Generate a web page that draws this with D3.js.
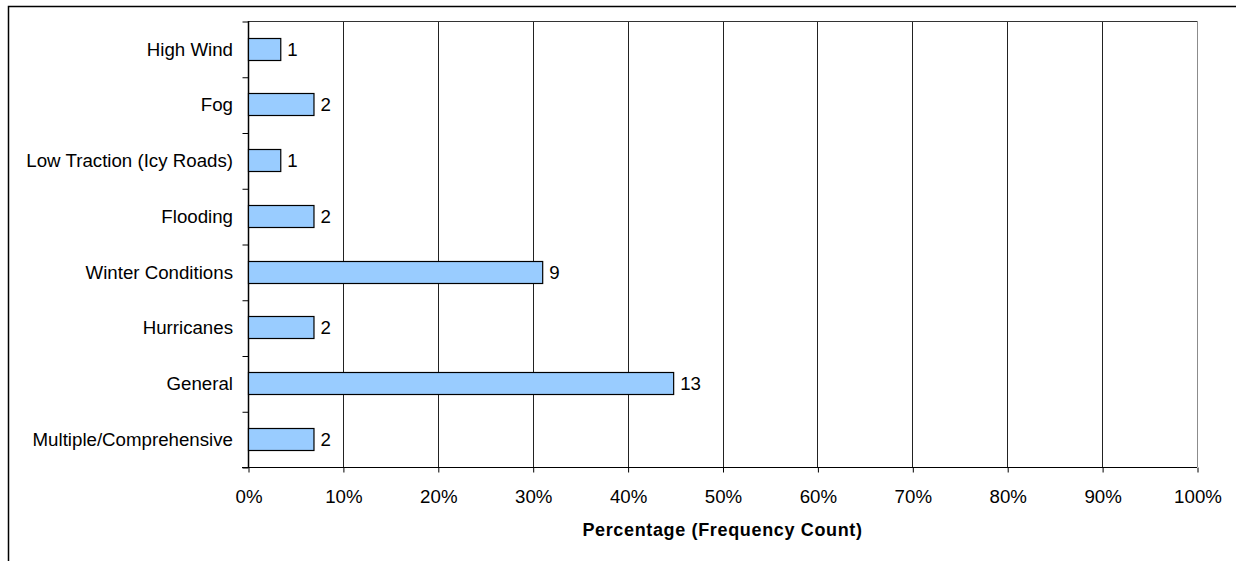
<!DOCTYPE html>
<html>
<head>
<meta charset="utf-8">
<script src="https://cdn.jsdelivr.net/npm/d3@7"></script>
<style>
  body { margin: 0; background: #fff; }
  svg text { font-family: "Liberation Sans", Arial, sans-serif; fill: #000; }
  .axis path { display: none; }
  .axis line { stroke: #000; }
</style>
</head>
<body>
<div class="chart"></div>
<script>
const CATEGORIES = ["High Wind", "Fog", "Low Traction (Icy Roads)", "Flooding",
  "Winter Conditions", "Hurricanes", "General", "Multiple/Comprehensive"];
const COUNTS = [1, 2, 1, 2, 9, 2, 13, 2];
const PERCENTS = [3.4, 6.9, 3.4, 6.9, 31.0, 6.9, 44.8, 6.9];
const X_TICKS = [0, 10, 20, 30, 40, 50, 60, 70, 80, 90, 100];
const X_TITLE = "Percentage (Frequency Count)";

const WIDTH = 1236, HEIGHT = 561;
const LEFT = 248, RIGHT = 1197, TOP = 21, BOTTOM = 467;
const FONT = 18.7;

const data = CATEGORIES.map((c, i) => ({ cat: c, count: COUNTS[i], pct: PERCENTS[i] }));

const svg = d3.select(".chart").append("svg").attr("width", WIDTH).attr("height", HEIGHT);

// chart border (runs off the right and bottom)
svg.append("rect")
  .attr("x", 8.5).attr("y", 6.5)
  .attr("width", 1400).attr("height", 700)
  .attr("fill", "none").attr("stroke", "#000").attr("stroke-width", 1.5);

const xScale = d3.scaleLinear().domain([0, 100]).range([LEFT, RIGHT]);
const yScale = d3.scaleBand().domain(CATEGORIES).range([TOP, BOTTOM])
  .paddingInner(0.6).paddingOuter(0.3);
const yEdges = d3.scaleLinear().domain([0, CATEGORIES.length]).range([TOP, BOTTOM]);

// Gridlines
svg.append("g").attr("class", "grid")
  .selectAll("line").data(X_TICKS.slice(1)).enter().append("line")
  .attr("x1", d => Math.round(xScale(d)) + 0.5)
  .attr("x2", d => Math.round(xScale(d)) + 0.5)
  .attr("y1", TOP).attr("y2", BOTTOM)
  .attr("stroke", d => d === 100 ? "#8c8c8c" : "#222");

// plot top edge
svg.append("line")
  .attr("x1", LEFT).attr("x2", RIGHT)
  .attr("y1", TOP + 0.5).attr("y2", TOP + 0.5)
  .attr("stroke", "#333");

// X-Axis
const xAxis = svg.append("g")
  .attr("class", "axis")
  .attr("transform", `translate(0.5, ${BOTTOM + 0.5})`)
  .call(d3.axisBottom(xScale).tickValues(X_TICKS).tickSize(5).tickPadding(17)
    .tickFormat(d => d + "%"));
xAxis.selectAll("text").attr("font-size", FONT).attr("fill", "#000");
svg.append("line")
  .attr("x1", LEFT - 6).attr("x2", RIGHT)
  .attr("y1", BOTTOM + 0.5).attr("y2", BOTTOM + 0.5)
  .attr("stroke", "#000");

svg.append("text")
  .attr("x", (LEFT + RIGHT) / 2)
  .attr("y", 536)
  .attr("text-anchor", "middle")
  .attr("font-size", 18)
  .attr("font-weight", "bold")
  .attr("letter-spacing", 0.65)
  .text(X_TITLE);

// Y-Axis
svg.append("g")
  .attr("class", "axis")
  .attr("transform", `translate(${LEFT + 0.5}, 0.5)`)
  .call(d3.axisLeft(yEdges).ticks(CATEGORIES.length).tickSize(6).tickFormat(""));
svg.append("line")
  .attr("x1", LEFT + 0.5).attr("x2", LEFT + 0.5)
  .attr("y1", TOP).attr("y2", BOTTOM)
  .attr("stroke", "#000").attr("stroke-width", 1.5);

svg.append("g")
  .selectAll("text").data(data).enter().append("text")
  .attr("x", LEFT - 15)
  .attr("y", d => yScale(d.cat) + yScale.bandwidth() / 2)
  .attr("dy", "0.36em")
  .attr("text-anchor", "end")
  .attr("font-size", FONT)
  .text(d => d.cat);

// Bars
const bars = svg.append("g").attr("class", "bars");
bars.selectAll("rect").data(data).enter().append("rect")
  .attr("x", xScale(0) + 0.5)
  .attr("y", d => Math.round(yScale(d.cat)) + 0.5)
  .attr("width", d => xScale(d.pct) - xScale(0))
  .attr("height", Math.round(yScale.bandwidth()))
  .attr("fill", "#99ccff")
  .attr("stroke", "#000")
  .attr("stroke-width", 1.2);

bars.selectAll("text").data(data).enter().append("text")
  .attr("x", d => xScale(d.pct) + 7)
  .attr("y", d => yScale(d.cat) + yScale.bandwidth() / 2)
  .attr("dy", "0.36em")
  .attr("font-size", FONT)
  .text(d => d.count);
</script>
</body>
</html>
